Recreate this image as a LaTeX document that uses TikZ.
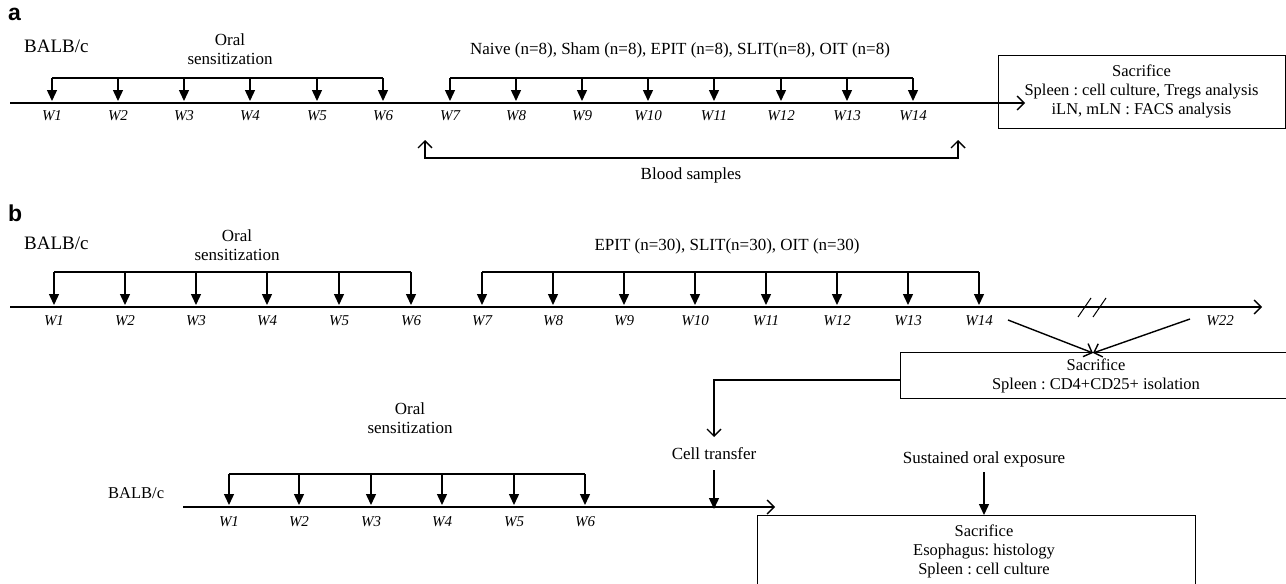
\documentclass[tikz,border=0pt]{standalone}
\usepackage{fontspec}
\setmainfont{Liberation Serif}
\newfontfamily\labfont{Liberation Sans}
\usetikzlibrary{arrows.meta}
\frenchspacing
\begin{document}
\begin{tikzpicture}[x=1pt,y=-1pt,
  every node/.style={inner sep=0pt, font=\fontsize{17}{19}\selectfont},
  wlab/.style={font=\fontsize{15}{17}\selectfont\itshape},
  tickarr/.style={line width=1.4pt, -{Triangle[length=11pt,width=10pt]}},
  openarr/.style={line width=1.4pt, -{Straight Barb[length=7pt,width=14pt]}},
  brk/.style={line width=1.4pt},
  boxline/.style={draw, line width=1pt},
  txt/.style={align=center},
  boxtxt/.style={align=center, font=\fontsize{16.5}{19}\selectfont},
  panel/.style={font=\labfont\bfseries\fontsize{23}{25}\selectfont},
  strain/.style={font=\fontsize{19}{22}\selectfont}
]
\useasboundingbox (0,0) rectangle (1286,584);

% ---------------- panel a ----------------
\node[panel,anchor=west] (pa) at (8,14) {a};
\node[strain,anchor=west] (sa) at (24,46) {BALB/c};
\node[txt] (ora) at (230,49) {Oral\\sensitization};
\node[txt] (treata) at (680,50) {Naive (n=8), Sham (n=8), EPIT (n=8), SLIT(n=8), OIT (n=8)};

\node[boxline, minimum width=287pt, minimum height=73pt, boxtxt] (boxa) at (1141.5,91.5)
  {Sacrifice\\Spleen : cell culture, Tregs analysis\\iLN, mLN : FACS analysis};

\coordinate (a0) at (10,103);
\coordinate (aend) at (1025,103);
\draw[openarr] (a0) -- (aend);

\foreach \i/\x in {1/52,2/118,3/184,4/250,5/317,6/383,7/450,8/516,9/582,10/648,11/714,12/781,13/847,14/913}{
  \coordinate (at\i) at (\x,78);
  \coordinate (ab\i) at (\x,101);
  \draw[tickarr] (at\i) -- (ab\i);
  \node[wlab] (aw\i) at (\x,116) {W\i};
}
\draw[brk] (at1) -- (at6);
\draw[brk] (at7) -- (at14);

\coordinate (blt) at (425,140);
\coordinate (bl) at (425,158);
\coordinate (br) at (958,158);
\coordinate (brt) at (958,140);
\draw[line width=1.4pt, {Straight Barb[length=7pt,width=14pt]}-{Straight Barb[length=7pt,width=14pt]}] (blt) -- (bl) -- (br) -- (brt);
\node (blood) at (691,175) {Blood samples};

% ---------------- panel b ----------------
\node[panel,anchor=west] (pb) at (8,213) {b};
\node[strain,anchor=west] (sb) at (24,243) {BALB/c};
\node[txt] (orb) at (237,245) {Oral\\sensitization};
\node[txt] (treatb) at (727,246) {EPIT (n=30), SLIT(n=30), OIT (n=30)};

\coordinate (b0) at (10,307);
\coordinate (bend) at (1262,307);
\draw[openarr] (b0) -- (bend);

\foreach \i/\x in {1/54,2/125,3/196,4/267,5/339,6/411,7/482,8/553,9/624,10/695,11/766,12/837,13/908,14/979}{
  \coordinate (bt\i) at (\x,272);
  \coordinate (bb\i) at (\x,305);
  \draw[tickarr] (bt\i) -- (bb\i);
  \node[wlab] (bw\i) at (\x,321) {W\i};
}
\node[wlab] (bw22) at (1220,321) {W22};
\draw[brk] (bt1) -- (bt6);
\draw[brk] (bt7) -- (bt14);

% break mark
\coordinate (s1a) at (1078,317); \coordinate (s1b) at (1091,298);
\coordinate (s2a) at (1093,317); \coordinate (s2b) at (1106,298);
\draw[line width=1pt] (s1a) -- (s1b);
\draw[line width=1pt] (s2a) -- (s2b);

\node[boxline, minimum width=392pt, minimum height=46pt, boxtxt] (boxb) at (1096,375.5)
  {Sacrifice\\Spleen : CD4+CD25+ isolation};
\coordinate (boxbtop) at (1093,353);
\coordinate (w14s) at (1008,320);
\coordinate (w22s) at (1190,319);
\draw[openarr] (w14s) -- (boxbtop);
\draw[openarr] (w22s) -- (boxbtop);

% cell transfer
\coordinate (bx) at (900,380);
\coordinate (ct) at (714,380);
\coordinate (ctt) at (714,437);
\draw[openarr] (bx) -- (ct) -- (ctt);
\node (cell) at (714,454) {Cell transfer};

% ---------------- bottom timeline ----------------
\node[strain,anchor=west,font=\fontsize{16.5}{19}\selectfont] (sc) at (108,493) {BALB/c};
\node[txt] (orc) at (410,418) {Oral\\sensitization};

\coordinate (c0) at (183,507);
\coordinate (cend) at (775,507);
\draw[openarr] (c0) -- (cend);

\foreach \i/\x in {1/229,2/299,3/371,4/442,5/514,6/585}{
  \coordinate (ct\i) at (\x,474);
  \coordinate (cb\i) at (\x,505);
  \draw[tickarr] (ct\i) -- (cb\i);
  \node[wlab] (cw\i) at (\x,522) {W\i};
}
\draw[brk] (ct1) -- (ct6);

\coordinate (cts) at (714,470);
\coordinate (cte) at (714,509);
\draw[tickarr] (cts) -- (cte);

\node (sus) at (984,459) {Sustained oral exposure};
\coordinate (suss) at (984,472);
\coordinate (suse) at (984,515);
\draw[tickarr] (suss) -- (suse);

\coordinate (c1) at (757,600);
\coordinate (c2) at (757,515);
\coordinate (c3) at (1195,515);
\coordinate (c4) at (1195,600);
\draw[line width=1pt] (c1) -- (c2) -- (c3) -- (c4);
\node[boxtxt] (boxctext) at (984,551) {Sacrifice\\Esophagus: histology\\Spleen : cell culture};

\end{tikzpicture}
\end{document}
